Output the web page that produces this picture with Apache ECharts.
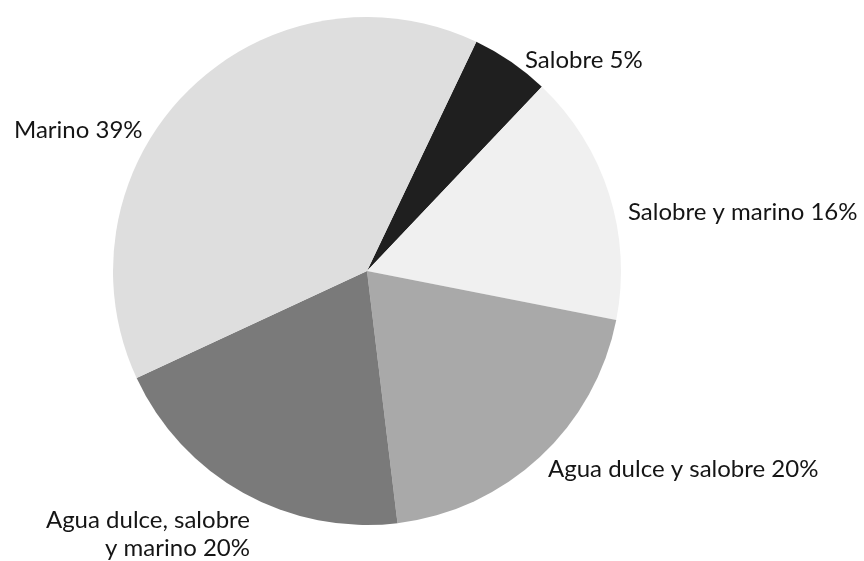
<!DOCTYPE html>
<html>
<head>
<meta charset="utf-8">
<script src="https://cdn.jsdelivr.net/npm/echarts@6/dist/echarts.min.js"></script>
<style>html,body{margin:0;padding:0;background:#fff}#c{width:864px;height:561px}</style>
</head>
<body>
<div id="c"></div>
<script>
const categories = ["Salobre", "Salobre y marino", "Agua dulce y salobre", "Agua dulce, salobre\ny marino", "Marino"];
const values = [5, 16, 20, 20, 39];
const colors = ["#1f1f1f", "#f0f0f0", "#a9a9a9", "#7a7a7a", "#dedede"];
const labelPos = [
  {x: 525, y: 60, align: "left"},
  {x: 628, y: 212, align: "left"},
  {x: 548, y: 469, align: "left"},
  {x: 250, y: 534, align: "right"},
  {x: 14, y: 130, align: "left"}
];
const chart = echarts.init(document.getElementById('c'), null, {renderer: 'canvas'});
chart.setOption({
  backgroundColor: '#ffffff',
  animation: false,
  series: [{
    type: 'pie',
    center: [367, 271],
    radius: 254,
    startAngle: 64.5,
    clockwise: true,
    data: categories.map((n, i) => ({name: n, value: values[i], itemStyle: {color: colors[i]}})),
    label: {
      show: true,
      formatter: p => p.name + ' ' + p.value + '%',
      fontFamily: 'Lato',
      fontSize: 24,
      color: '#151515',
      lineHeight: 28,
      overflow: 'none'
    },
    labelLine: {show: false},
    labelLayout: function (p) {
      const lp = labelPos[p.dataIndex];
      return {x: lp.x, y: lp.y, align: lp.align, verticalAlign: 'middle'};
    }
  }]
});
</script>
</body>
</html>
